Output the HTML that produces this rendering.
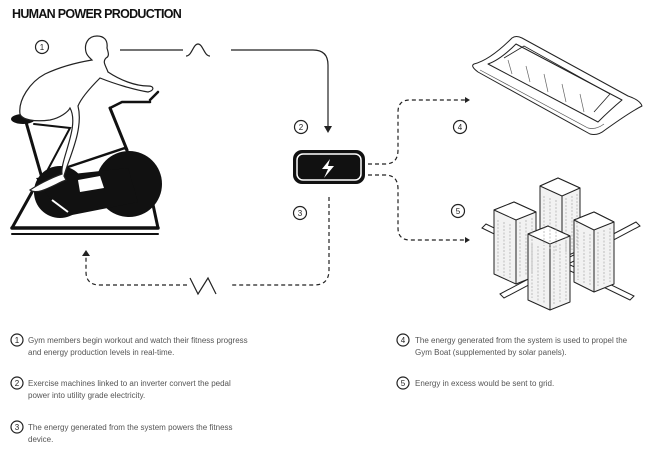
<!DOCTYPE html>
<html><head><meta charset="utf-8"><style>
html,body{margin:0;padding:0;background:#fff;width:650px;height:458px;overflow:hidden}
svg{display:block}
text{font-family:"Liberation Sans",sans-serif}
.t{font-size:8px;fill:#555}
.c{fill:none;stroke:#222;stroke-width:1.2}
.n{font-size:8px;fill:#222;text-anchor:middle}
</style></head><body>
<svg width="650" height="458" viewBox="0 0 650 458" xmlns="http://www.w3.org/2000/svg">
<text x="12" y="18" style="font-size:12.5px;font-weight:bold;fill:#111;letter-spacing:0.2px" textLength="170">HUMAN POWER PRODUCTION</text>

<circle cx="42" cy="47" r="6.5" class="c"/><text x="42" y="50" class="n">1</text>

<g stroke="#111" fill="none" stroke-linecap="round">
<path d="M12 228 L32 192" stroke-width="3"/>
<path d="M152 200 L158 228" stroke-width="3"/>
<path d="M12 228 H158" stroke-width="3.5"/>
<path d="M12 234 H158" stroke-width="2"/>
<path d="M26 122 L42 178" stroke-width="3"/>
<path d="M34 124 L70 128 L45 175" stroke-width="2"/>
<path d="M110 108 L127 150" stroke-width="3"/>
<path d="M110 108 L122 102 H150" stroke-width="2.5"/>
<path d="M150 100 L158 92" stroke-width="2.5"/>
<path d="M65 168 L125 148 L128 152" stroke-width="2.5"/>
</g>
<ellipse cx="23" cy="119" rx="12" ry="5" fill="#111"/>
<circle cx="129" cy="184" r="33" fill="#111"/>
<circle cx="60" cy="192" r="26" fill="#111"/>
<path d="M36 178 L128 168 L138 202 L62 217 Z" fill="#111"/>
<path d="M78 180 L100 176 L104 188 L80 192 Z" fill="#fff"/>
<path d="M52 200 L68 212" stroke="#fff" stroke-width="2"/>

<path d="M97 36 C88 36 84 44 86 52 C87 56 90 58 92 60 C80 62 62 66 45 74 C30 82 18 100 20 114 C22 120 35 122 50 120 C60 118 68 112 70 108 C80 126 60 160 62 174 C50 178 36 186 30 190 C38 196 55 184 66 180 L64 176 C68 160 84 130 78 106 C82 96 94 84 100 78 C115 84 135 90 148 92 C155 90 154 86 148 86 C135 86 120 80 108 72 C106 66 102 62 106 58 C110 56 108 52 107 48 C108 40 104 36 97 36 Z" fill="#fff" stroke="#222" stroke-width="1.2"/>

<path d="M120 50 H183" class="c"/>
<path d="M186 56 C192 56 193 44 198 44 C203 44 204 56 210 56" class="c"/>
<path d="M231 50 H313 Q328 50 328 65 V128" class="c"/>
<path d="M324 126 L328 133 L332 126 Z" fill="#222"/>

<circle cx="301" cy="127" r="6.5" class="c"/><text x="301" y="130" class="n">2</text>

<rect x="293" y="150" width="72" height="34" rx="9" fill="#111"/>
<rect x="297" y="154" width="64" height="26" rx="6" fill="none" stroke="#fff" stroke-width="1.5"/>
<path d="M330 159 L322 169 L328 169 L324 178 L334 166 L328 166 Z" fill="#fff"/>

<circle cx="300" cy="213" r="6.5" class="c"/><text x="300" y="216" class="n">3</text>

<g class="c" stroke-dasharray="4 3">
<path d="M329 197 V270 Q329 285 314 285 H230"/>
<path d="M187 285 H100 Q86 285 86 272 V256"/>
</g>
<path d="M190 278 L198 294 L208 278 L216 294" class="c"/>
<path d="M82 256 L86 250 L90 256 Z" fill="#222"/>

<g class="c" stroke-dasharray="4 3">
<path d="M368 164 H385 Q398 164 398 150 V112 Q398 100 410 100 H465"/>
<path d="M368 175 H385 Q398 175 398 189 V228 Q398 240 410 240 H465"/>
</g>
<path d="M465 97 L470 100 L465 103 Z" fill="#222"/>
<path d="M465 237 L470 240 L465 243 Z" fill="#222"/>
<circle cx="460" cy="127" r="6.5" class="c"/><text x="460" y="130" class="n">4</text>
<circle cx="458" cy="211" r="6.5" class="c"/><text x="458" y="214" class="n">5</text>

<g fill="#fff" stroke="#222" stroke-width="1" stroke-linejoin="round">
<path d="M474 64 Q490 60 512 38 Q516 35 522 38 L628 96 Q640 100 642 106 Q630 112 605 130 Q598 136 590 134 L478 72 Q470 66 474 64 Z"/>
<path d="M480 70 L588 128 Q596 130 604 124" fill="none" stroke="#555" stroke-width="0.7"/>
<path d="M488 64 Q500 60 516 44 L622 100 Q610 110 598 122 Z"/>
<path d="M504 58 L524 46 L610 94 L594 112" fill="none" stroke-width="0.8"/>
</g>
<g stroke="#666" stroke-width="0.7">
<path d="M508 60 L512 74 M526 66 L530 82 M544 74 L548 92 M562 84 L566 102 M580 94 L584 112"/>
</g>

<g fill="#fff" stroke="#222" stroke-width="1">
<path d="M482 228 L630 300 L634 296 L486 224 Z"/>
<path d="M500 294 L636 222 L640 226 L504 298 Z"/>
</g>
<g stroke="#222" stroke-width="1" stroke-linejoin="round">
<path d="M540 186 L558 178 L580 188 L580 250 L562 258 L540 248 Z" fill="#f2f2f2"/>
<path d="M540 186 L558 178 L580 188 L562 196 Z" fill="#fff"/>
<path d="M562 196 V258" fill="none"/>
<path d="M494 210 L514 202 L536 212 L536 276 L516 284 L494 274 Z" fill="#f2f2f2"/>
<path d="M494 210 L514 202 L536 212 L516 220 Z" fill="#fff"/>
<path d="M516 220 V284" fill="none"/>
<path d="M574 220 L594 212 L614 222 L614 284 L594 292 L574 282 Z" fill="#f2f2f2"/>
<path d="M574 220 L594 212 L614 222 L594 230 Z" fill="#fff"/>
<path d="M594 230 V292" fill="none"/>
<path d="M528 234 L548 226 L570 236 L570 302 L550 310 L528 300 Z" fill="#f2f2f2"/>
<path d="M528 234 L548 226 L570 236 L550 244 Z" fill="#fff"/>
<path d="M550 244 V310" fill="none"/>
</g>
<g stroke="#999" stroke-width="0.6" stroke-dasharray="2 1.5">
<path d="M544 196 V246 M550 198 V250 M556 200 V252 M566 198 V252 M572 196 V250 M577 194 V248"/>
<path d="M498 220 V272 M504 222 V276 M510 224 V278 M520 222 V278 M526 220 V276 M532 218 V274"/>
<path d="M578 230 V280 M584 232 V284 M590 234 V286 M598 232 V286 M604 230 V284 M610 228 V282"/>
<path d="M532 244 V298 M538 246 V302 M544 248 V304 M554 246 V304 M560 244 V302 M566 242 V300"/>
</g>

<g>
<circle cx="17" cy="340" r="6" class="c"/><text x="17" y="343" class="n">1</text>
<text x="28" y="343" class="t">Gym members begin workout and watch their fitness progress</text>
<text x="28" y="355" class="t">and energy production levels in real-time.</text>
<circle cx="17" cy="383" r="6" class="c"/><text x="17" y="386" class="n">2</text>
<text x="28" y="386" class="t">Exercise machines linked to an inverter convert the pedal</text>
<text x="28" y="398" class="t">power into utility grade electricity.</text>
<circle cx="17" cy="427" r="6" class="c"/><text x="17" y="430" class="n">3</text>
<text x="28" y="430" class="t">The energy generated from the system powers the fitness</text>
<text x="28" y="442" class="t">device.</text>
<circle cx="403" cy="340" r="6" class="c"/><text x="403" y="343" class="n">4</text>
<text x="415" y="343" class="t">The energy generated from the system is used to propel the</text>
<text x="415" y="355" class="t">Gym Boat (supplemented by solar panels).</text>
<circle cx="403" cy="383" r="6" class="c"/><text x="403" y="386" class="n">5</text>
<text x="415" y="386" class="t">Energy in excess would be sent to grid.</text>
</g>
</svg>
</body></html>
